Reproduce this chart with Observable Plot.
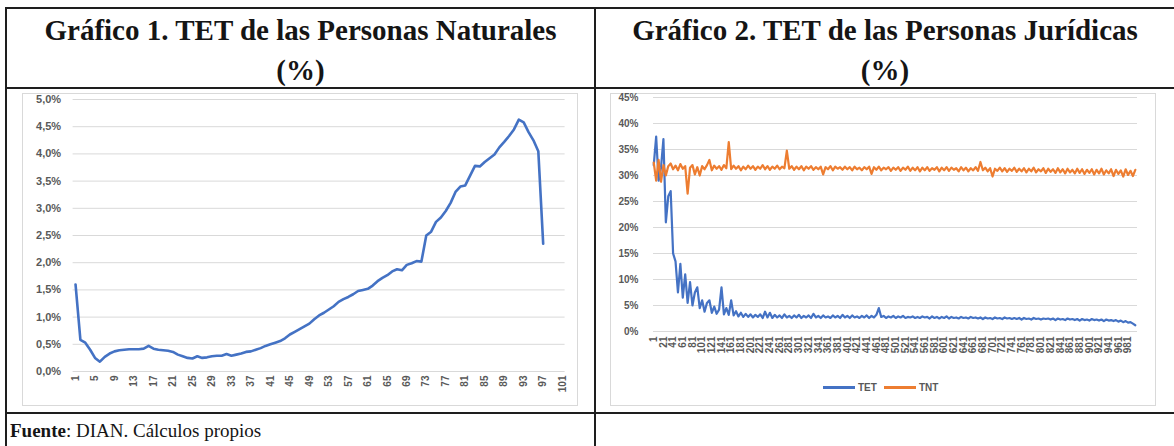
<!DOCTYPE html>
<html><head><meta charset="utf-8">
<script src="https://cdn.jsdelivr.net/npm/d3@7"></script>
<script src="https://cdn.jsdelivr.net/npm/@observablehq/plot@0.6"></script>
<style>
html,body{margin:0;padding:0;background:#fff;}
body{width:1174px;height:446px;position:relative;overflow:hidden;font-family:"Liberation Serif","Times New Roman",serif;}
.hl{position:absolute;height:2px;background:#1e1e1e;}
.vl{position:absolute;width:2px;background:#1e1e1e;}
.title{position:absolute;font-weight:bold;font-size:29px;line-height:40px;text-align:center;color:#151515;white-space:nowrap;}
.frame{position:absolute;border:1px solid #d9d9d9;box-sizing:border-box;}
.chart{position:absolute;}
.chart svg{overflow:visible;}
.legend{position:absolute;font-family:"Liberation Sans",Arial,sans-serif;font-size:10px;font-weight:bold;color:#595959;display:flex;align-items:center;}
.legend .sw{display:inline-block;width:32px;height:3px;margin-right:3px;}
.foot{position:absolute;font-size:19px;line-height:24px;color:#151515;white-space:nowrap;}
</style></head><body>
<div class="hl" style="left:5px;top:7px;width:1169px"></div>
<div class="hl" style="left:5px;top:87px;width:1169px"></div>
<div class="hl" style="left:5px;top:412px;width:1169px"></div>
<div class="vl" style="left:5px;top:7px;height:439px"></div>
<div class="vl" style="left:594px;top:7px;height:439px"></div>
<div class="title" style="left:6px;top:10px;width:589px">Gráfico 1. TET de las Personas Naturales<br>(%)</div>
<div class="title" style="left:596px;top:10px;width:578px">Gráfico 2. TET de las Personas Jurídicas<br>(%)</div>
<div class="frame" style="left:22px;top:93px;width:556px;height:313px"></div>
<div class="frame" style="left:610px;top:93px;width:546px;height:313px"></div>
<div class="chart" id="left" style="left:22px;top:93px"></div>
<div class="chart" id="right" style="left:610px;top:93px"></div>
<div class="legend" style="left:823px;top:382px"><span class="sw" style="background:#4472C4"></span>TET<span class="sw" style="background:#ED7D31;margin-left:7px"></span>TNT</div>
<div class="foot" style="left:10px;top:419px"><b>Fuente</b>: DIAN. Cálculos propios</div>
<script>
// ---- Gráfico 1: TET personas naturales (percentiles) ----
const leftTET = [
  1.60, 0.58, 0.53, 0.40, 0.25, 0.18, 0.27, 0.33, 0.37, 0.39,
  0.40, 0.41, 0.41, 0.41, 0.42, 0.47, 0.42, 0.40, 0.39, 0.38,
  0.36, 0.31, 0.28, 0.25, 0.24, 0.28, 0.25, 0.26, 0.28, 0.29,
  0.29, 0.32, 0.29, 0.31, 0.33, 0.36, 0.37, 0.40, 0.43, 0.47,
  0.50, 0.53, 0.56, 0.61, 0.68, 0.73, 0.78, 0.83, 0.88, 0.96,
  1.03, 1.08, 1.14, 1.20, 1.28, 1.33, 1.37, 1.42, 1.48, 1.50,
  1.52, 1.58, 1.66, 1.72, 1.77, 1.84, 1.88, 1.86, 1.96, 1.99,
  2.03, 2.02, 2.50, 2.57, 2.75, 2.83, 2.95, 3.10, 3.30, 3.40,
  3.42, 3.60, 3.78, 3.77, 3.85, 3.92, 3.99, 4.12, 4.22, 4.33,
  4.45, 4.63, 4.58, 4.40, 4.25, 4.05, 2.35
];
const leftCategories = d3.range(1, leftTET.length + 1);
const leftXTicks = [1,5,9,13,17,21,25,29,33,37,41,45,49,53,57,61,65,69,73,77,81,85,89,93,97,101];
const leftYTicks = [0,0.5,1,1.5,2,2.5,3,3.5,4,4.5,5];

// ---- Gráfico 2: TET y TNT personas jurídicas ----
const rightTET = [
  32.0,37.5,29.0,31.5,37.0,21.0,26.0,27.0,15.0,13.5,
  7.5,13.0,6.5,11.0,5.5,9.5,5.0,7.5,8.5,4.5,
  6.0,3.8,5.5,6.0,3.6,4.8,3.4,4.2,8.5,3.3,
  4.5,3.2,6.0,3.1,3.9,2.9,3.6,2.8,3.4,2.8,
  3.3,2.7,3.2,2.8,3.3,2.6,3.8,2.7,3.6,2.6,
  3.2,2.7,3.1,2.6,3.3,2.7,3.0,2.6,3.1,2.7,
  3.2,2.6,3.0,2.7,3.1,2.6,3.4,2.7,3.0,2.6,
  3.1,2.7,2.9,2.6,3.1,2.7,3.0,2.6,3.2,2.7,
  3.0,2.6,3.1,2.7,2.9,2.6,3.0,2.7,3.1,2.6,
  3.0,2.7,3.2,4.5,2.8,3.0,2.6,2.9,2.7,3.0,
  2.6,2.9,2.7,3.0,2.6,2.8,2.7,2.9,2.6,2.8,
  2.6,2.9,2.7,2.8,2.5,2.9,2.6,2.8,2.5,2.8,
  2.6,2.9,2.5,2.8,2.6,2.7,2.5,2.8,2.6,2.7,
  2.5,2.8,2.6,2.7,2.5,2.7,2.4,2.7,2.5,2.6,
  2.4,2.7,2.5,2.6,2.4,2.7,2.5,2.6,2.4,2.6,
  2.4,2.6,2.3,2.6,2.4,2.5,2.3,2.6,2.4,2.5,
  2.3,2.5,2.4,2.5,2.3,2.5,2.2,2.5,2.3,2.4,
  2.2,2.5,2.3,2.4,2.2,2.4,2.1,2.4,2.2,2.3,
  2.1,2.4,2.2,2.3,2.1,2.3,2.0,2.3,2.1,2.2,
  2.0,2.2,1.9,2.1,1.8,2.0,1.7,1.8,1.5,1.2
];
const rightTNT = [
  32.5,29.0,33.0,28.8,32.0,30.0,31.8,32.3,31.2,31.9,
  31.0,32.2,31.3,31.8,26.5,31.5,32.0,30.2,31.6,30.0,
  31.8,31.2,32.0,33.0,31.0,31.9,31.3,31.8,31.1,32.0,
  31.4,36.4,31.2,31.9,31.3,31.8,31.0,31.7,31.2,31.9,
  31.3,31.8,31.1,31.7,31.3,32.0,31.2,31.8,31.1,31.7,
  31.3,31.9,31.2,31.7,31.4,34.8,31.3,31.8,31.1,31.7,
  31.2,31.8,31.0,31.7,31.3,31.8,31.1,31.6,31.2,31.7,
  30.2,31.6,31.2,31.8,31.0,31.7,31.3,31.6,31.1,31.7,
  31.2,31.6,31.0,31.7,31.2,31.5,31.0,31.6,31.2,31.7,
  30.3,31.6,31.1,31.7,31.0,31.5,31.2,31.6,30.9,31.5,
  31.1,31.6,30.9,31.5,31.1,31.7,30.9,31.5,31.0,31.6,
  30.8,31.5,31.0,31.6,30.9,31.4,31.1,31.6,30.8,31.5,
  31.0,31.6,30.9,31.5,31.1,31.4,30.8,31.6,31.0,31.5,
  30.8,31.4,31.0,31.6,30.9,32.6,31.0,31.5,30.8,31.4,
  29.8,31.3,30.9,31.5,30.8,31.4,30.7,31.3,30.9,31.5,
  30.7,31.3,30.8,31.4,30.6,31.3,30.8,31.5,30.6,31.2,
  30.8,31.4,30.5,31.3,30.7,31.2,30.5,31.4,30.6,31.2,
  30.4,31.3,30.6,31.1,30.4,31.3,30.5,31.2,30.3,31.1,
  30.5,31.2,30.2,31.1,30.4,31.3,30.2,31.0,30.4,31.2,
  29.9,31.1,30.3,31.0,29.8,31.2,30.1,30.9,29.9,31.1
];
// each sampled value represents one category out of every five (1..1000)
const rightCategories = d3.range(rightTET.length).map(i => 1 + 5 * i);
const rightXTicks = [1,21,41,61,81,101,121,141,161,181,201,221,241,261,281,301,321,341,361,381,401,421,441,461,481,501,521,541,561,581,601,621,641,661,681,701,721,741,761,781,801,821,841,861,881,901,921,941,961,981];
const rightYTicks = [0,5,10,15,20,25,30,35,40,45];

const axisStyle = {fontFamily: "'Liberation Sans', Arial, sans-serif", fontSize: "11px", color: "#595959", background: "transparent", overflow: "visible"};

const leftData = leftCategories.map((c, i) => ({c, v: leftTET[i]}));
const leftPlot = Plot.plot({
  width: 556, height: 313,
  marginLeft: 50.6, marginRight: 13.4, marginTop: 6, marginBottom: 35,
  style: axisStyle,
  x: {type: "linear", domain: [0.5, 101.5]},
  y: {domain: [0, 5]},
  marks: [
    Plot.ruleY(leftYTicks, {stroke: "#d9d9d9", strokeWidth: 1}),
    Plot.axisY({ticks: leftYTicks, tickSize: 0, tickPadding: 12, label: null, fontWeight: "bold",
      tickFormat: d => d.toFixed(1).replace(".", ",") + "%"}),
    Plot.axisX({ticks: leftXTicks, tickRotate: -90, tickSize: 0, tickPadding: 4, label: null, fontWeight: "bold", fontSize: 10,
      tickFormat: d => String(d)}),
    Plot.lineY(leftData, {x: "c", y: "v", stroke: "#4472C4", strokeWidth: 2.6, strokeLinejoin: "round"})
  ]
});
document.getElementById("left").appendChild(leftPlot);

const tetData = rightCategories.map((c, i) => ({c, v: rightTET[i]}));
const tntData = rightCategories.map((c, i) => ({c, v: rightTNT[i]}));
const rightPlot = Plot.plot({
  width: 546, height: 313,
  marginLeft: 43, marginRight: 19, marginTop: 4, marginBottom: 75,
  style: axisStyle,
  x: {type: "linear", domain: [0.5, 1000.5]},
  y: {domain: [0, 45]},
  marks: [
    Plot.ruleY(rightYTicks, {stroke: "#d9d9d9", strokeWidth: 1}),
    Plot.axisY({ticks: rightYTicks, tickSize: 0, tickPadding: 15, label: null, fontWeight: "bold", fontSize: 10,
      tickFormat: d => d + "%"}),
    Plot.axisX({ticks: rightXTicks, tickRotate: -90, tickSize: 0, tickPadding: 5, label: null, fontWeight: "bold", fontSize: 10,
      tickFormat: d => String(d)}),
    Plot.lineY(tetData, {x: "c", y: "v", stroke: "#4472C4", strokeWidth: 2.2, strokeLinejoin: "round"}),
    Plot.lineY(tntData, {x: "c", y: "v", stroke: "#ED7D31", strokeWidth: 2.2, strokeLinejoin: "round"})
  ]
});
document.getElementById("right").appendChild(rightPlot);
</script>
</body></html>
